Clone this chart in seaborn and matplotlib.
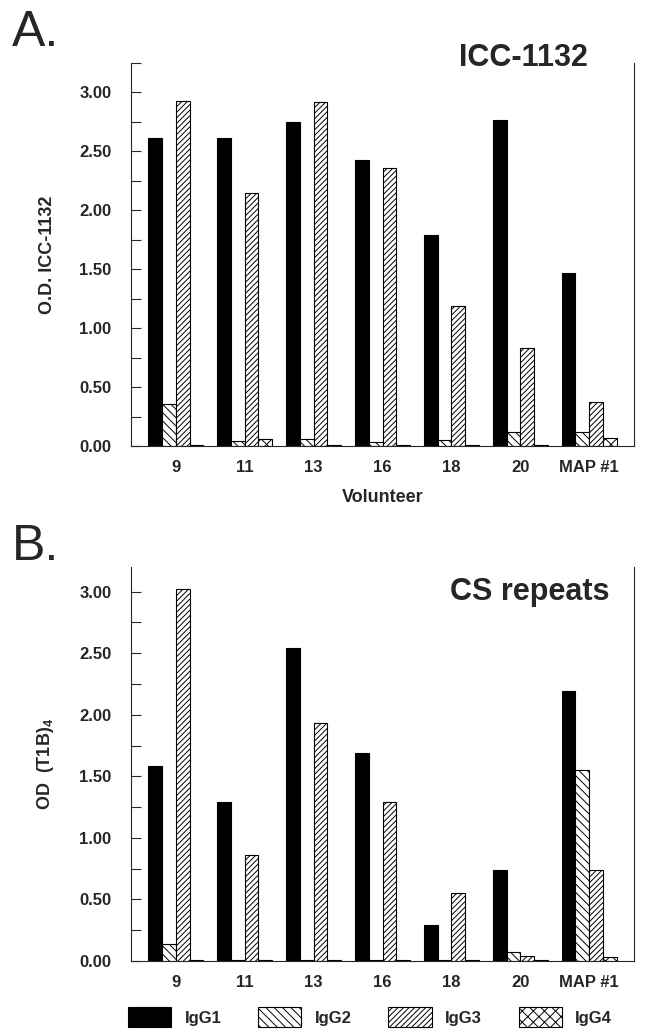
import numpy as np
import pandas as pd
import seaborn as sns
import matplotlib
from matplotlib import pyplot as plt
from matplotlib.patches import Patch
from matplotlib.ticker import MultipleLocator, FormatStrFormatter

volunteers = ["9", "11", "13", "16", "18", "20", "MAP #1"]
subclasses = ["IgG1", "IgG2", "IgG3", "IgG4"]

# panel A: O.D. ICC-1132
icc_igg1 = [2.61, 2.61, 2.75, 2.43, 1.79, 2.77, 1.47]
icc_igg2 = [0.36, 0.04, 0.06, 0.03, 0.05, 0.12, 0.12]
icc_igg3 = [2.93, 2.15, 2.92, 2.36, 1.19, 0.83, 0.37]
icc_igg4 = [0.01, 0.06, 0.01, 0.01, 0.01, 0.01, 0.07]

# panel B: OD (T1B)4, CS repeats
cs_igg1 = [1.58, 1.29, 2.54, 1.69, 0.29, 0.74, 2.19]
cs_igg2 = [0.14, 0.01, 0.01, 0.01, 0.01, 0.07, 1.55]
cs_igg3 = [3.02, 0.86, 1.93, 1.29, 0.55, 0.04, 0.74]
cs_igg4 = [0.01, 0.01, 0.01, 0.01, 0.01, 0.01, 0.03]

sns.set_style("ticks")
matplotlib.rcParams["font.family"] = ["Liberation Sans", "DejaVu Sans"]
matplotlib.rcParams["mathtext.fontset"] = "custom"
matplotlib.rcParams["mathtext.rm"] = "Liberation Sans"
matplotlib.rcParams["mathtext.bf"] = "Liberation Sans:bold"
matplotlib.rcParams["hatch.linewidth"] = 0.7
matplotlib.rcParams["hatch.color"] = "black"

face = {"IgG1": "black", "IgG2": "white", "IgG3": "white", "IgG4": "white"}
hatches = {"IgG1": "", "IgG2": "\\\\\\\\", "IgG3": "//////", "IgG4": "xxx"}


def to_long(series):
    rows = []
    for sub, vals in zip(subclasses, series):
        for v, od in zip(volunteers, vals):
            rows.append({"volunteer": v, "igg": sub, "od": od})
    return pd.DataFrame(rows)


def draw_panel(ax, df, ylabel, ytop):
    sns.barplot(
        data=df, x="volunteer", y="od", hue="igg", order=volunteers,
        hue_order=subclasses, palette=face, width=0.8, edgecolor="black",
        linewidth=0.8, saturation=1, legend=False, errorbar=None, ax=ax,
    )
    for sub, cont in zip(subclasses, ax.containers):
        for bar in cont:
            bar.set_hatch(hatches[sub])
    ax.set_xlim(-0.65, 6.65)
    ax.set_ylim(0, ytop)
    ax.yaxis.set_major_locator(MultipleLocator(0.5))
    ax.yaxis.set_minor_locator(MultipleLocator(0.25))
    ax.yaxis.set_major_formatter(FormatStrFormatter("%.2f"))
    ax.tick_params(axis="y", which="both", direction="in", length=7, width=0.8)
    ax.tick_params(axis="x", length=0, pad=10)
    for lab in ax.get_xticklabels() + ax.get_yticklabels():
        lab.set_fontsize(12)
        lab.set_fontweight("bold")
    ax.tick_params(axis="y", pad=14)
    ax.spines["top"].set_visible(False)
    for s in ["left", "bottom", "right"]:
        ax.spines[s].set_linewidth(0.8)
    ax.set_ylabel(ylabel, fontsize=13, fontweight="bold")
    ax.yaxis.set_label_coords(-0.15, 0.5)
    ax.set_xlabel("")


W, H = 646, 1034
fig = plt.figure(figsize=(W / 100, H / 100), dpi=100)

ax_a = fig.add_axes([131 / W, 1 - 446 / H, 503 / W, 383 / H])
draw_panel(ax_a, to_long([icc_igg1, icc_igg2, icc_igg3, icc_igg4]),
           "O.D. ICC-1132", 3.25)
ax_a.set_xlabel("Volunteer", fontsize=13, fontweight="bold", labelpad=10)

ax_b = fig.add_axes([131 / W, 1 - 961 / H, 503 / W, 394 / H])
draw_panel(ax_b, to_long([cs_igg1, cs_igg2, cs_igg3, cs_igg4]),
           r"OD  (T1B)$_\mathbf{4}$", 3.2)

fig.text(12 / W, 1 - 46 / H, "A.", fontsize=36, va="baseline")
fig.text(12 / W, 1 - 560 / H, "B.", fontsize=36, va="baseline")
fig.text(588 / W, 1 - 66 / H, "ICC-1132", fontsize=22, fontweight="bold",
         ha="right", va="baseline")
fig.text(610 / W, 1 - 600 / H, "CS repeats", fontsize=22, fontweight="bold",
         ha="right", va="baseline")

handles = [Patch(facecolor=face[s], edgecolor="black", hatch=hatches[s],
                 linewidth=0.8) for s in subclasses]
fig.legend(handles, subclasses, loc="center", bbox_to_anchor=(370 / W, 1 - 1017 / H),
           ncol=4, frameon=False, handlelength=2.6, handleheight=1.45,
           handletextpad=0.8, columnspacing=2.2,
           prop={"size": 12, "weight": "bold"})

fig.savefig("out.png", dpi=100)
